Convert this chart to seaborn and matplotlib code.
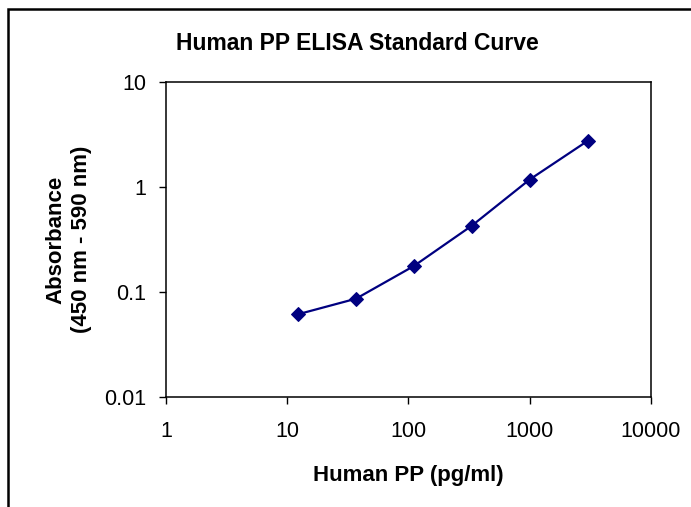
import numpy as np
import pandas as pd
import matplotlib
matplotlib.use("Agg")
import matplotlib.pyplot as plt
import seaborn as sns
from matplotlib.patches import Rectangle

# --- dati ---
conc_pg_ml = [12.3, 37, 111, 333, 1000, 3000]
absorbance = [0.0614, 0.0864, 0.177, 0.428, 1.18, 2.75]

x_ticks = [1, 10, 100, 1000, 10000]
x_tick_labels = ["1", "10", "100", "1000", "10000"]
y_ticks = [0.01, 0.1, 1, 10]
y_tick_labels = ["0.01", "0.1", "1", "10"]

df = pd.DataFrame({"Human PP (pg/ml)": conc_pg_ml, "Absorbance": absorbance})

sns.set_style("ticks")
plt.rcParams["font.family"] = ["Liberation Sans", "DejaVu Sans"]
plt.rcParams["text.color"] = "black"
plt.rcParams["axes.labelcolor"] = "black"
plt.rcParams["xtick.color"] = "black"
plt.rcParams["ytick.color"] = "black"

fig = plt.figure(figsize=(6.91, 5.07), dpi=100)
ax = fig.add_axes([0.240, 0.217, 0.702, 0.621])

sns.lineplot(data=df, x="Human PP (pg/ml)", y="Absorbance", ax=ax,
             color="#000080", linewidth=1.6, marker="D", markersize=7,
             markeredgecolor="#000080", markerfacecolor="#000080")

ax.set_xscale("log")
ax.set_yscale("log")
ax.set_xlim(1, 10000)
ax.set_ylim(0.01, 10)
ax.minorticks_off()
ax.set_xticks(x_ticks)
ax.set_xticklabels(x_tick_labels)
ax.set_yticks(y_ticks)
ax.set_yticklabels(y_tick_labels)
ax.tick_params(axis="both", labelsize=15.5, length=5, width=1, direction="out",
               color="black", labelcolor="black")
ax.tick_params(axis="x", pad=12)
ax.tick_params(axis="y", pad=9)

for s in ax.spines.values():
    s.set_visible(True)
    s.set_color("black")
    s.set_linewidth(1.1)

ax.set_xlabel("Human PP (pg/ml)", fontsize=16, fontweight="bold", labelpad=17)
ax.set_ylabel("Absorbance\n(450 nm - 590 nm)", fontsize=16, fontweight="bold",
              labelpad=9, linespacing=1.25)

fig.text(0.517, 0.915, "Human PP ELISA Standard Curve", ha="center", va="center",
         fontsize=16.5, fontweight="bold")

# cornice esterna (tagliata a destra e in basso come nell'originale)
fig.patches.append(Rectangle((0.0115, -0.05), 1.2, 1.032, transform=fig.transFigure,
                             fill=False, edgecolor="black", linewidth=1.8))

fig.savefig("out.png", dpi=100)
